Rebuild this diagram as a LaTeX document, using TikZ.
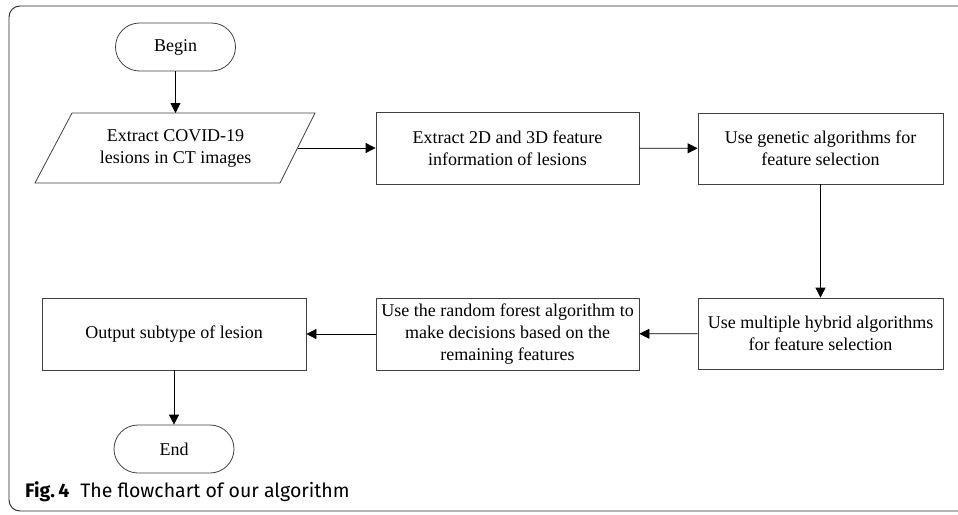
\documentclass[tikz,border=0pt]{standalone}
\usepackage{fontspec}
\setmainfont{Liberation Serif}
\newfontfamily\capfont{Fira Sans}
\usetikzlibrary{arrows.meta}
\begin{document}
\begin{tikzpicture}[x=1pt,y=-1pt,
  every node/.style={font=\fontsize{18}{22}\selectfont, align=center, inner sep=0pt},
  boxline/.style={draw=black!75, line width=0.8pt},
  procbox/.style={boxline, rectangle},
  terminal/.style={boxline, rectangle, rounded corners=24pt, minimum width=120pt, minimum height=48pt},
  flow/.style={draw=black, line width=0.8pt, -{Triangle[length=10pt,width=10pt]}}
]
\useasboundingbox (0,0) rectangle (958,514);
% outer frame, open on the right
\begin{scope}
\clip (0,0) rectangle (958,514);
\draw[black!85, line width=0.9pt, rounded corners=11pt] (980,6) -- (9,6) -- (9,511) -- (980,511);
\end{scope}

\node[terminal] (begin) at (175.5,47) {Begin};

% input/output parallelogram
\node (extract) at (175.5,148) {Extract COVID-19\\lesions in CT images};
\draw[boxline] (72,113) -- (315,113) -- (280,183) -- (35,183) -- cycle;
\coordinate (extractN) at (175.5,113);
\coordinate (extractE) at (297.5,148);

\node[procbox, minimum width=263pt, minimum height=72pt] (feat) at (507.5,148) {Extract 2D and 3D feature\\information of lesions};
\node[procbox, minimum width=245pt, minimum height=71pt] (ga) at (820.5,148.5) {Use genetic algorithms for\\feature selection};
\node[procbox, minimum width=245pt, minimum height=71pt] (hybrid) at (820.5,333.5) {Use multiple hybrid algorithms\\for feature selection};
\node[procbox, minimum width=263pt, minimum height=72pt] (rf) at (507.5,334) {Use the random forest algorithm to\\make decisions based on the\\remaining features};
\node[procbox, minimum width=264pt, minimum height=72pt] (out) at (174,334) {Output subtype of lesion};
\node[terminal] (end) at (174,449) {End};

\draw[flow] (begin) -- (extractN);
\draw[flow] (extractE) -- (feat.west);
\draw[flow] (feat) -- (ga);
\draw[flow] (ga) -- (hybrid);
\draw[flow] (hybrid) -- (rf);
\draw[flow] (rf) -- (out);
\draw[flow] (out) -- (end);

\node[anchor=west, font=\capfont\fontsize{19.5}{22}\selectfont] (caption) at (25,492)
  {\textbf{Fig.\,4}\hspace{11pt}The flowchart of our algorithm};
\end{tikzpicture}
\end{document}
